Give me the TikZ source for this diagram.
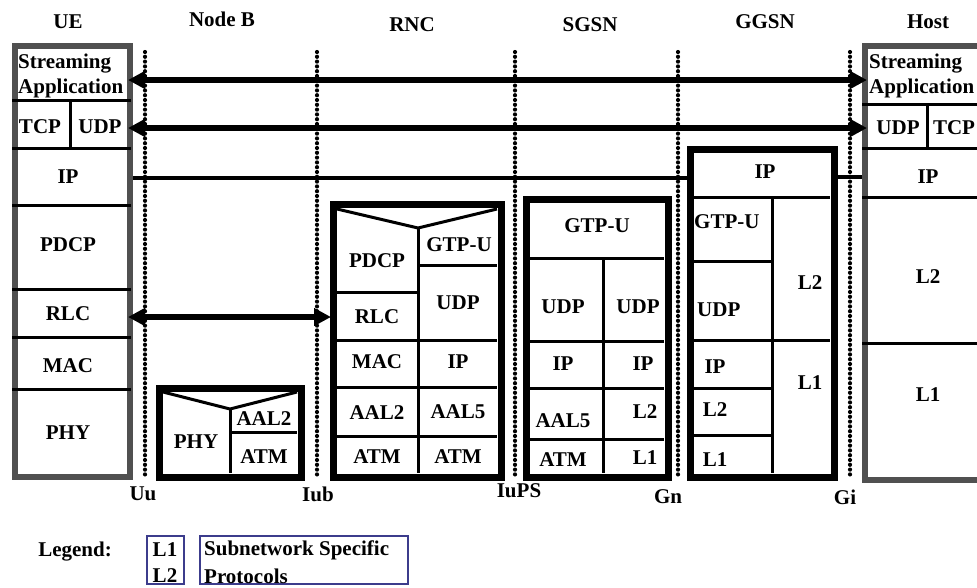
\documentclass[tikz,border=0pt]{standalone}
\usepackage{fontspec}
\setmainfont{Liberation Serif}
\usetikzlibrary{arrows.meta}
\definecolor{stackgray}{RGB}{80,80,80}
\definecolor{legblue}{RGB}{60,60,140}
\tikzset{
  lbl/.style={font=\fontsize{21}{23}\selectfont\bfseries, inner sep=0pt},
  lblL/.style={lbl, anchor=west},
  grayframe/.style={draw=stackgray, line width=6.5pt},
  blackframe/.style={draw=black, line width=7pt},
  sep/.style={draw=black, line width=3pt},
  iface/.style={line width=4.2pt, dash pattern=on 0pt off 4.8pt, line cap=round},
  bigarrow/.style={line width=6pt, {Triangle[length=17pt,width=17pt]}-{Triangle[length=17pt,width=17pt]}},
  ipline/.style={line width=3.5pt},
  legbox/.style={draw=legblue, line width=1.5pt},
}
\begin{document}
\begin{tikzpicture}[x=1pt,y=-1pt]
\clip (0,0) rectangle (977,587);
\fill[white] (0,0) rectangle (977,587);

% headers
\node[lbl] (hUE) at (68,22) {UE};
\node[lbl] (hNB) at (222,19) {Node B};
\node[lbl] (hRNC) at (412,25) {RNC};
\node[lbl] (hSGSN) at (590,25) {SGSN};
\node[lbl] (hGGSN) at (765,22) {GGSN};
\node[lbl] (hHost) at (928,22) {Host};

% interfaces
\coordinate (UuT) at (145,52);  \coordinate (UuB) at (145,479);
\coordinate (IubT) at (317,52); \coordinate (IubB) at (317,479);
\coordinate (IuT) at (515,52);  \coordinate (IuB) at (515,479);
\coordinate (GnT) at (678,52);  \coordinate (GnB) at (678,479);
\coordinate (GiT) at (850,52);  \coordinate (GiB) at (850,479);
\draw[iface] (UuT) -- (UuB);
\draw[iface] (IubT) -- (IubB);
\draw[iface] (IuT) -- (IuB);
\draw[iface] (GnT) -- (GnB);
\draw[iface] (GiT) -- (GiB);
\node[lbl] (lUu) at (143,494) {Uu};
\node[lbl] (lIub) at (318,494) {Iub};
\node[lbl] (lIuPS) at (519,491) {IuPS};
\node[lbl] (lGn) at (668,497) {Gn};
\node[lbl] (lGi) at (845,497) {Gi};

% ---------------- UE ----------------
\node[lblL] (ueS) at (18,64) {Streaming};
\node[lblL] (ueA) at (18,88) {Application};
\node[lbl] (ueTCP) at (40,127) {TCP};
\node[lbl] (ueUDP) at (100,127) {UDP};
\node[lbl] (ueIPt) at (68,177) {IP};
\node[lbl] (uePDCP) at (68,245) {PDCP};
\node[lbl] (ueRLCt) at (68,314) {RLC};
\node[lbl] (ueMAC) at (68,366) {MAC};
\node[lbl] (uePHY) at (68,433) {PHY};
\draw[grayframe] (15,46) rectangle (130,477);
\foreach \yy in {100,148,205,289,337,389} \draw[sep] (12,\yy) -- (131,\yy);
\draw[sep] (70,100) -- (70,148);

% ---------------- Node B ----------------
\node[lbl] (nbPHY) at (196,442) {PHY};
\node[lbl] (nbAAL2) at (264,419) {AAL2};
\node[lbl] (nbATM) at (264,457) {ATM};
\draw[blackframe] (159,388) rectangle (301,477);
\draw[sep] (163,392) -- (230,409) -- (297,392);
\draw[sep] (230,409) -- (230,473);
\draw[sep] (230,432) -- (297,432);

% ---------------- RNC ----------------
\node[lbl] (rPDCP) at (377,261) {PDCP};
\node[lbl] (rRLC) at (377,317) {RLC};
\node[lbl] (rMAC) at (377,362) {MAC};
\node[lbl] (rAAL2) at (377,413) {AAL2};
\node[lbl] (rATM1) at (377,457) {ATM};
\node[lbl] (rGTP) at (459,245) {GTP-U};
\node[lbl] (rUDP) at (458,303) {UDP};
\node[lbl] (rIP) at (458,362) {IP};
\node[lbl] (rAAL5) at (458,412) {AAL5};
\node[lbl] (rATM2) at (458,457) {ATM};
\draw[blackframe] (333,204) rectangle (501,477);
\draw[sep] (337,209) -- (418,228) -- (497,209);
\draw[sep] (418,228) -- (418,473);
\foreach \yy in {292,340,387,436} \draw[sep] (337,\yy) -- (418,\yy);
\foreach \yy in {265,340,387,436} \draw[sep] (418,\yy) -- (497,\yy);

% ---------------- SGSN ----------------
\node[lbl] (sGTP) at (597,226) {GTP-U};
\node[lbl] (sUDP1) at (563,307) {UDP};
\node[lbl] (sUDP2) at (638,307) {UDP};
\node[lbl] (sIP1) at (563,364) {IP};
\node[lbl] (sIP2) at (643,364) {IP};
\node[lbl] (sAAL5) at (563,421) {AAL5};
\node[lbl] (sL2) at (645,412) {L2};
\node[lbl] (sATM) at (563,460) {ATM};
\node[lbl] (sL1) at (645,458) {L1};
\draw[blackframe] (526,199) rectangle (668,477);
\draw[sep] (530,258) -- (664,258);
\draw[sep] (603,258) -- (603,473);
\foreach \yy in {341,388,439} \draw[sep] (530,\yy) -- (664,\yy);

% ---------------- GGSN ----------------
\node[lbl] (gIP) at (765,172) {IP};
\node[lblL] (gGTP) at (694,222) {GTP-U};
\node[lbl] (gL2r) at (810,283) {L2};
\node[lblL] (gUDP) at (697,310) {UDP};
\node[lbl] (gL1r) at (810,383) {L1};
\node[lbl] (gIP2) at (715,367) {IP};
\node[lbl] (gL2) at (715,410) {L2};
\node[lbl] (gL1) at (715,460) {L1};
\draw[blackframe] (690,149) rectangle (834,477);
\draw[sep] (693,197) -- (830,197);
\draw[sep] (772,197) -- (772,473);
\draw[sep] (693,261) -- (772,261);
\draw[sep] (693,340) -- (830,340);
\draw[sep] (693,388) -- (772,388);
\draw[sep] (693,435) -- (772,435);

% ---------------- Host ----------------
\node[lblL] (hS) at (869,64) {Streaming};
\node[lblL] (hA) at (869,88) {Application};
\node[lbl] (hUDP) at (898,128) {UDP};
\node[lbl] (hTCP) at (954,128) {TCP};
\node[lbl] (hIPt) at (928,177) {IP};
\node[lbl] (hL2) at (928,277) {L2};
\node[lbl] (hL1) at (928,395) {L1};
\draw[grayframe] (865,46) rectangle (1000,480);
\foreach \yy in {104,148,197,343} \draw[sep] (862,\yy) -- (980,\yy);
\draw[sep] (927,104) -- (927,148);

% ---------------- peer connectors ----------------
\coordinate (ueApp) at (128,80);   \coordinate (hostApp) at (867,80);
\coordinate (ueTr) at (128,128);   \coordinate (hostTr) at (867,128);
\coordinate (ueIP) at (133,178);   \coordinate (ggsnIPL) at (687,178);
\coordinate (ggsnIPR) at (838,177); \coordinate (hostIP) at (862,177);
\coordinate (ueRLC) at (128,317);  \coordinate (rncRLC) at (331,317);
\draw[bigarrow] (ueApp) -- (hostApp);
\draw[bigarrow] (ueTr) -- (hostTr);
\draw[ipline] (ueIP) -- (ggsnIPL);
\draw[ipline] (ggsnIPR) -- (hostIP);
\draw[bigarrow] (ueRLC) -- (rncRLC);

% ---------------- legend ----------------
\node[lbl] (leg) at (75,552) {Legend:};
\draw[legbox] (147,536) rectangle (184,584);
\draw[legbox] (200,536) rectangle (408,584);
\node[lbl] (legL1) at (165,550) {L1};
\node[lbl] (legL2) at (165,576) {L2};
\node[lblL] (legT1) at (204,550) {Subnetwork Specific};
\node[lblL] (legT2) at (204,576) {Protocols};
\end{tikzpicture}
\end{document}
